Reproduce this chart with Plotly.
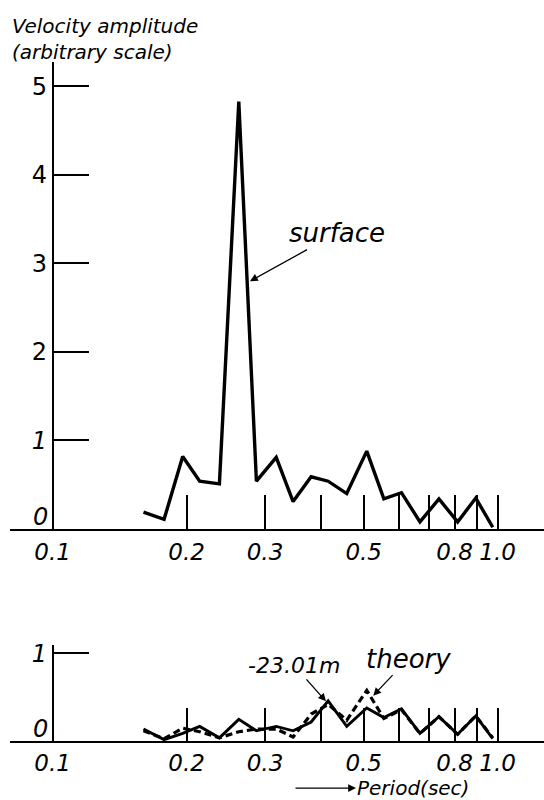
import numpy as np
import plotly.graph_objects as go

# ---- data ----
periods = [0.160, 0.178, 0.196, 0.214, 0.237, 0.262, 0.287, 0.318, 0.347, 0.381,
           0.416, 0.458, 0.508, 0.555, 0.608, 0.669, 0.738, 0.813, 0.893, 0.975]
surface = [0.19, 0.11, 0.82, 0.54, 0.51, 4.83, 0.54, 0.81, 0.31, 0.59,
           0.54, 0.40, 0.88, 0.34, 0.41, 0.08, 0.34, 0.08, 0.35, 0.02]
depth_23m = [0.14, 0.02, 0.09, 0.17, 0.04, 0.25, 0.12, 0.17, 0.12, 0.22,
             0.46, 0.17, 0.38, 0.27, 0.37, 0.09, 0.28, 0.08, 0.29, 0.03]
theory = [0.12, 0.03, 0.15, 0.11, 0.04, 0.11, 0.14, 0.14, 0.05, 0.31,
          0.42, 0.24, 0.58, 0.26, 0.36, 0.09, 0.28, 0.08, 0.29, 0.04]

x_tickvals = [0.1, 0.2, 0.3, 0.4, 0.5, 0.6, 0.7, 0.8, 0.9, 1.0]
x_ticktext = ["0.1", "0.2", "0.3", "", "0.5", "", "", "0.8", "", "1.0"]
top_yvals = [0, 1, 2, 3, 4, 5]
top_ytext = ["", "<i>1</i>", "2", "3", "4", "5"]
bot_yvals = [0, 1]
bot_ytext = ["", "<i>1</i>"]
zero_label = "0"

FONT = "DejaVu Sans"
W, H = 544, 800
ML = 10
yaxis_pos = (52.7 - ML) / (W - ML)
xrange_log = [np.log10(0.0802), np.log10(1.271)]

fig = go.Figure()
fig.add_trace(go.Scatter(x=periods, y=surface, mode="lines",
                         line=dict(color="black", width=3.4),
                         xaxis="x", yaxis="y", showlegend=False))
fig.add_trace(go.Scatter(x=periods, y=theory, mode="lines",
                         line=dict(color="black", width=3.2, dash="7px,4px"),
                         xaxis="x2", yaxis="y2", showlegend=False))
fig.add_trace(go.Scatter(x=periods, y=depth_23m, mode="lines",
                         line=dict(color="black", width=2.9),
                         xaxis="x2", yaxis="y2", showlegend=False))

xcommon = dict(type="log", range=xrange_log, domain=[0, 1],
               showline=True, linecolor="black", linewidth=1.5,
               showgrid=False, zeroline=False,
               tickmode="array", tickvals=x_tickvals, ticktext=x_ticktext,
               ticks="inside", ticklen=34, tickwidth=1.5, tickcolor="black",
               tickfont=dict(family=FONT, size=23, color="black", style="italic"))
ycommon = dict(anchor="free", position=yaxis_pos,
               showline=True, linecolor="black", linewidth=1.5,
               showgrid=False, zeroline=False,
               ticks="inside", ticklen=36, tickwidth=1.5, tickcolor="black",
               tickfont=dict(family=FONT, size=24, color="black"))

fig.update_layout(
    width=W, height=H, autosize=False,
    margin=dict(l=ML, r=0, t=0, b=0),
    paper_bgcolor="white", plot_bgcolor="white",
    xaxis=dict(anchor="y", ticklabelstandoff=2, **xcommon),
    yaxis=dict(domain=[1 - 527.3 / H, 1 - 57 / H], range=[0, 5.28],
               tickmode="array", tickvals=top_yvals, ticktext=top_ytext, **ycommon),
    xaxis2=dict(anchor="y2", ticklabelstandoff=0, **xcommon),
    yaxis2=dict(domain=[1 - 741 / H, 1 - 644 / H], range=[0, 1.096],
                tickmode="array", tickvals=bot_yvals, ticktext=bot_ytext, **ycommon),
)

italic = lambda s: dict(family=FONT, size=s, color="black", style="italic")

# "0" labels sitting just above each x axis
for xr, yr in (("x", "y"), ("x2", "y2")):
    fig.add_annotation(xref=xr, yref=yr, x=np.log10(0.1), y=0, text=f"<i>{zero_label}</i>",
                       showarrow=False, xanchor="right", yanchor="bottom",
                       xshift=-3, yshift=-4, font=dict(family=FONT, size=24, color="black"))

# y axis title
fig.add_annotation(xref="paper", yref="paper", x=0, y=1 - 7 / H,
                   xanchor="left", yanchor="top", align="left", showarrow=False,
                   text="Velocity amplitude<br>(arbitrary scale)", font=italic(20))
# arrow at the top of the y axis
fig.add_annotation(xref="x", yref="y", x=np.log10(0.1), y=5.30, text="",
                   showarrow=True, ax=0, ay=22, arrowhead=2, arrowsize=1.3,
                   arrowwidth=1.5, arrowcolor="black")
# surface label
fig.add_annotation(xref="x", yref="y", x=np.log10(0.2776), y=2.80,
                   text="surface", font=italic(26), showarrow=True,
                   ax=87, ay=-48, arrowhead=2, arrowsize=1.2, arrowwidth=1.3,
                   arrowcolor="black")
# -23.01m label
fig.add_annotation(xref="x2", yref="y2", x=np.log10(0.4114), y=0.455,
                   text="-23.01m", font=italic(22), showarrow=True,
                   ax=-32, ay=-36, arrowhead=2, arrowsize=1.2, arrowwidth=1.3,
                   arrowcolor="black")
# theory label
fig.add_annotation(xref="x2", yref="y2", x=np.log10(0.5253), y=0.52,
                   text="theory", font=italic(26), showarrow=True,
                   ax=35, ay=-37, arrowhead=2, arrowsize=1.2, arrowwidth=1.3,
                   arrowcolor="black")
# Period (sec) with arrow
fig.add_annotation(xref="paper", yref="paper", x=(356 - ML) / (W - ML), y=1 - 788 / H,
                   text="", showarrow=True, ax=-62, ay=0, arrowhead=2,
                   arrowsize=1.2, arrowwidth=1.3, arrowcolor="black")
fig.add_annotation(xref="paper", yref="paper", x=(355 - ML) / (W - ML), y=1 - 788 / H,
                   xanchor="left", yanchor="middle", showarrow=False,
                   text="Period(sec)", font=italic(20))

fig.write_html("out.html", config={"displayModeBar": False},
               post_script="document.body.style.margin='0px';"
                           "document.body.style.overflow='hidden';")
